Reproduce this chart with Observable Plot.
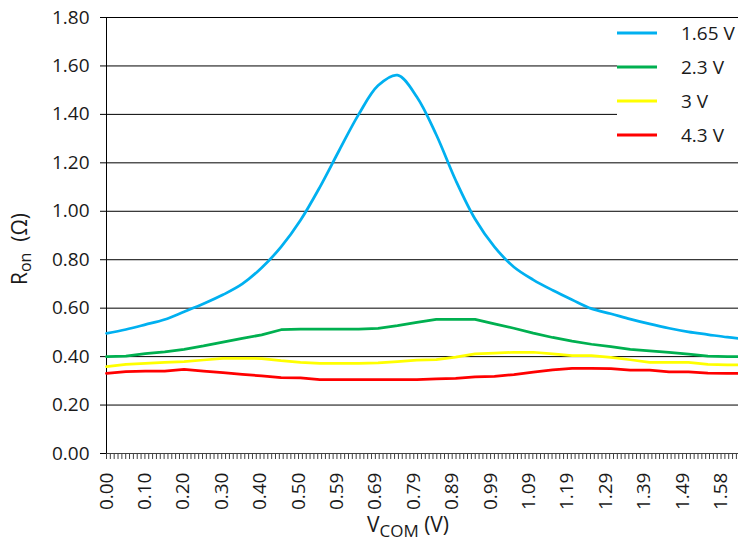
<!DOCTYPE html>
<html>
<head>
<meta charset="utf-8">
<script src="https://cdn.jsdelivr.net/npm/d3@7"></script>
<script src="https://cdn.jsdelivr.net/npm/@observablehq/plot@0.6"></script>
<style>
  html, body { margin: 0; padding: 0; background: #fff; }
  #chart svg { display: block; }
</style>
</head>
<body>
<div id="chart"></div>
<script>
// V_COM sample positions (V)
const vcom = [0.00, 0.05, 0.10, 0.15, 0.20, 0.25, 0.30, 0.35, 0.40, 0.45, 0.50, 0.55, 0.60, 0.65, 0.70, 0.75, 0.80,
              0.85, 0.90, 0.95, 1.00, 1.05, 1.10, 1.15, 1.20, 1.25, 1.30, 1.35, 1.40, 1.45, 1.50, 1.55, 1.60, 1.63];

// R_on (Ω) for each supply voltage
const ron165 = [0.496, 0.512, 0.532, 0.553, 0.585, 0.618, 0.655, 0.700, 0.767, 0.853, 0.963, 1.100, 1.252, 1.400, 1.519, 1.562, 1.472,
                1.316, 1.128, 0.968, 0.853, 0.770, 0.717, 0.674, 0.635, 0.598, 0.577, 0.555, 0.535, 0.517, 0.502, 0.491, 0.480, 0.475];
const ron23  = [0.400, 0.402, 0.412, 0.420, 0.430, 0.444, 0.460, 0.475, 0.490, 0.511, 0.513, 0.513, 0.513, 0.513, 0.517, 0.528, 0.541,
                0.554, 0.554, 0.554, 0.535, 0.517, 0.497, 0.479, 0.464, 0.451, 0.441, 0.430, 0.424, 0.417, 0.410, 0.402, 0.400, 0.400];
const ron3   = [0.359, 0.368, 0.372, 0.376, 0.379, 0.386, 0.393, 0.393, 0.392, 0.383, 0.376, 0.372, 0.372, 0.372, 0.374, 0.379, 0.385,
                0.388, 0.398, 0.411, 0.414, 0.418, 0.418, 0.411, 0.404, 0.404, 0.397, 0.387, 0.376, 0.376, 0.376, 0.368, 0.366, 0.366];
const ron43  = [0.331, 0.338, 0.340, 0.340, 0.347, 0.340, 0.334, 0.327, 0.320, 0.313, 0.312, 0.305, 0.305, 0.305, 0.305, 0.305, 0.305,
                0.308, 0.310, 0.316, 0.318, 0.326, 0.336, 0.345, 0.351, 0.351, 0.350, 0.344, 0.344, 0.337, 0.337, 0.332, 0.331, 0.331];

const seriesNames  = ["1.65 V", "2.3 V", "3 V", "4.3 V"];
const seriesColors = ["#00B0F0", "#00B050", "#FFFF00", "#FF0000"];
const seriesValues = [ron165, ron23, ron3, ron43];

const yTicks = [0.00, 0.20, 0.40, 0.60, 0.80, 1.00, 1.20, 1.40, 1.60, 1.80];
const xTickValues = [0, 0.099, 0.198, 0.297, 0.396, 0.495, 0.594, 0.693, 0.792, 0.891, 0.990, 1.089, 1.188, 1.287, 1.386, 1.485, 1.584];
const xTickLabels = ["0.00", "0.10", "0.20", "0.30", "0.40", "0.50", "0.59", "0.69", "0.79", "0.89", "0.99", "1.09", "1.19", "1.29", "1.39", "1.49", "1.58"];
const categoryStep = 0.0099;
const xMax = 1.629;

const rows = seriesNames.flatMap((name, s) => vcom.map((v, i) => ({name, v, r: seriesValues[s][i]})));
const minorTicks = d3.range(0, xMax, categoryStep);

const FONT = "'Open Sans', sans-serif";

const plot = Plot.plot({
  width: 738,
  height: 543,
  marginLeft: 106,
  marginRight: 0,
  marginTop: 17,
  marginBottom: 90,
  style: {fontFamily: FONT, fontSize: "19px", color: "#1a1a1a", background: "#fff"},
  x: {domain: [0, xMax], label: null},
  y: {domain: [0, 1.8], label: null},
  color: {domain: seriesNames, range: seriesColors},
  marks: [
    Plot.gridY(yTicks, {stroke: "#000", strokeOpacity: 1, strokeWidth: 1}),
    Plot.axisY(yTicks, {tickSize: 6, tickPadding: 11, tickFormat: d => d.toFixed(2), stroke: "#000", label: null, fontSize: 19}),
    Plot.axisX(minorTicks, {tickSize: 6, tickFormat: () => "", stroke: "#404040", label: null}),
    Plot.axisX(xTickValues, {tickSize: 0, tickPadding: 19, tickRotate: -90, tickFormat: d => xTickLabels[xTickValues.indexOf(d)], label: null, fontSize: 19}),
    Plot.ruleX([0], {stroke: "#000"}),
    Plot.ruleY([0], {stroke: "#404040"}),
    ...seriesNames.map((name, s) => Plot.line(rows.filter(d => d.name === name), {
      x: "v", y: "r", stroke: "name", strokeWidth: 2.75,
      curve: s === 0 ? "catmull-rom" : "linear"
    }))
  ]
});

document.getElementById("chart").appendChild(plot);

// Axis titles with subscripts, and legend
const svg = d3.select(plot);

const yTitle = svg.append("text")
  .attr("transform", "translate(27,249) rotate(-90)")
  .attr("text-anchor", "middle")
  .style("font-family", FONT).style("font-size", "21px").attr("fill", "#1a1a1a");
yTitle.append("tspan").text("R");
yTitle.append("tspan").style("font-size", "16px").attr("dy", 4).text("on");
yTitle.append("tspan").attr("dy", -4).text("  (Ω)");

const xTitle = svg.append("text")
  .attr("x", 408).attr("y", 532)
  .attr("text-anchor", "middle")
  .style("font-family", FONT).style("font-size", "21px").attr("fill", "#1a1a1a");
xTitle.append("tspan").text("V");
xTitle.append("tspan").style("font-size", "17px").attr("dy", 5).text("COM");
xTitle.append("tspan").attr("dy", -5).text(" (V)");

const legend = svg.append("g");
legend.append("rect").attr("x", 617).attr("y", 19).attr("width", 121).attr("height", 134).attr("fill", "#fff");
seriesNames.forEach((name, i) => {
  const cy = 33 + i * 34;
  legend.append("line").attr("x1", 617).attr("x2", 657).attr("y1", cy).attr("y2", cy)
    .attr("stroke", seriesColors[i]).attr("stroke-width", 3);
  legend.append("text").attr("x", 681).attr("y", cy).attr("dy", "0.35em")
    .attr("text-anchor", "start")
    .style("font-family", FONT).style("font-size", "19px").attr("fill", "#1a1a1a").text(name);
});
</script>
</body>
</html>
